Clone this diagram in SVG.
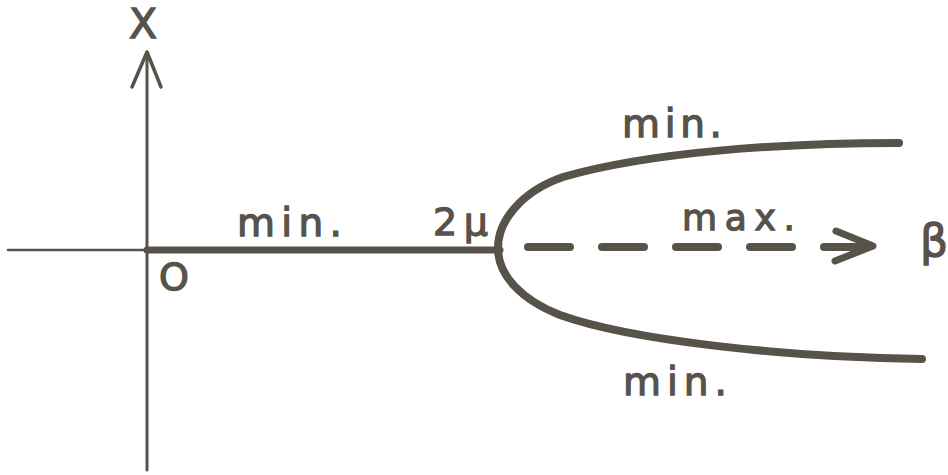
<svg xmlns="http://www.w3.org/2000/svg" width="948" height="475" viewBox="0 0 948 475">
<style>
.ln{fill:none;stroke:#57524a;stroke-linecap:round;stroke-linejoin:round}
.t{font-family:"DejaVu Sans","Liberation Sans",sans-serif;fill:#57524a;stroke:#57524a;stroke-width:1.3}
</style>
<rect width="948" height="475" fill="#ffffff"/>
<g id="axes">
<line class="ln" x1="147" y1="52" x2="147" y2="470" stroke-width="3"/>
<polyline class="ln" points="132,87 147,52 161,87" stroke-width="3.5"/>
<line class="ln" x1="8" y1="250" x2="147" y2="250" stroke-width="2.5"/>
</g>
<g id="curves">
<line class="ln" x1="147" y1="250" x2="500" y2="250" stroke-width="7" stroke-linecap="butt"/>
<path class="ln" stroke-width="8" d="M 899 143 C 780 143, 650 152, 563 177 C 520 192, 498 222, 498 248 C 498 276, 522 300, 560 315 C 630 340, 780 357, 922 359"/>
<path class="ln" stroke-width="8" d="M 528 247 H 872" stroke-dasharray="42 32"/>
<polyline class="ln" points="836,231 873,246 835,261" stroke-width="7"/>
</g>
<g id="labels">
<text class="t" x="129" y="38" font-size="41">X</text>
<text class="t" x="159" y="290" font-size="38">O</text>
<text class="t" x="237" y="236" font-size="39" textLength="105" lengthAdjust="spacing">min.</text>
<text class="t" x="433" y="235" font-size="38" textLength="55" lengthAdjust="spacing">2μ</text>
<text class="t" x="622" y="137" font-size="39" textLength="100" lengthAdjust="spacing">min.</text>
<text class="t" x="682" y="230" font-size="36" textLength="113" lengthAdjust="spacing">max.</text>
<text class="t" x="623" y="395" font-size="39" textLength="104" lengthAdjust="spacing">min.</text>
<text class="t" x="920" y="256" font-size="44">β</text>
</g>
</svg>
